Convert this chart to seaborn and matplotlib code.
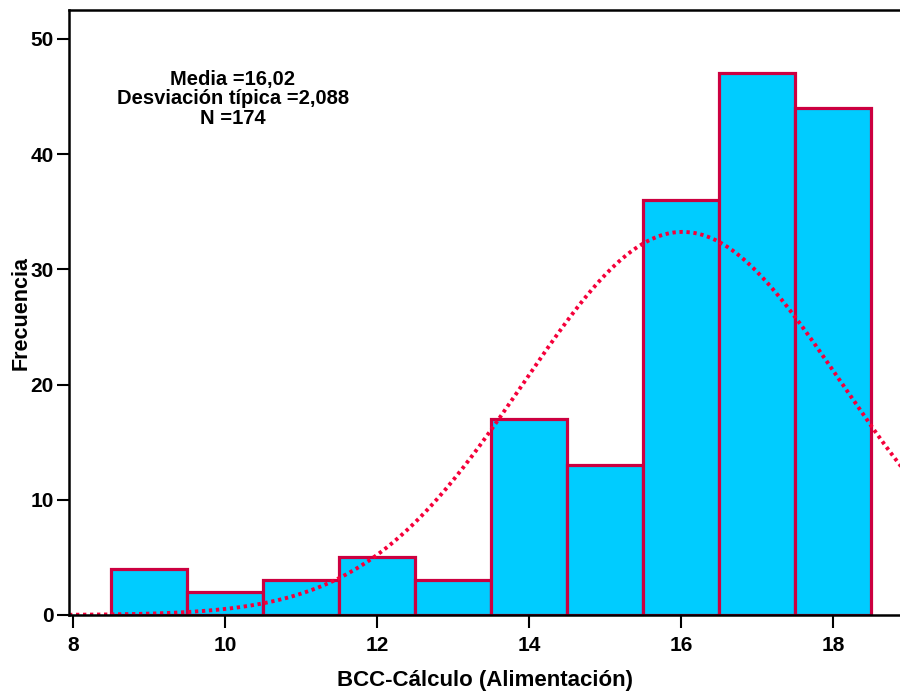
import numpy as np
import pandas as pd
import matplotlib
matplotlib.use("Agg")
import matplotlib.pyplot as plt
import seaborn as sns

bin_centers = [9, 10, 11, 12, 13, 14, 15, 16, 17, 18]
counts = [4, 2, 3, 5, 3, 17, 13, 36, 47, 44]
bin_edges = [8.5, 9.5, 10.5, 11.5, 12.5, 13.5, 14.5, 15.5, 16.5, 17.5, 18.5]
mean_val = 16.02
sd_val = 2.088
n_val = 174
x_ticks = [8, 10, 12, 14, 16, 18]
y_ticks = [0, 10, 20, 30, 40, 50]

sns.set_theme(style="white")
plt.rcParams['font.family'] = ['Liberation Sans', 'DejaVu Sans']
plt.rcParams['font.weight'] = 'bold'
plt.rcParams['text.color'] = 'black'
plt.rcParams['axes.labelcolor'] = 'black'
plt.rcParams['xtick.color'] = 'black'
plt.rcParams['ytick.color'] = 'black'

fig = plt.figure(figsize=(9, 6.91), dpi=100)
ax = fig.add_axes([0.0767, 0.11, 0.9233, 0.8755])

df = pd.DataFrame({"x": bin_centers, "w": counts})
sns.histplot(data=df, x="x", weights="w", bins=bin_edges, ax=ax,
             color="#00CCFF", edgecolor="#CC0040", linewidth=2.3, alpha=1.0)

xs = np.linspace(7.95, 19.0, 400)
ys = n_val * 1.0 * np.exp(-0.5 * ((xs - mean_val) / sd_val) ** 2) / (sd_val * np.sqrt(2 * np.pi))
sns.lineplot(x=xs, y=ys, ax=ax, color="#F5003A", linewidth=2.8,
             linestyle=(0, (0.85, 0.95)))

ax.set_xlim(7.95, 18.88)
ax.set_ylim(0, 52.5)
ax.set_xticks(x_ticks)
ax.set_yticks(y_ticks)
ax.tick_params(axis='both', which='both', direction='out', length=9, width=1.5,
               labelsize=15, colors='black', bottom=True, left=True, pad=2)
ax.tick_params(axis='x', pad=6)
for lab in ax.get_xticklabels() + ax.get_yticklabels():
    lab.set_fontweight('bold')
ax.set_xlabel("BCC-Cálculo (Alimentación)", fontsize=16, fontweight='bold', labelpad=11)
ax.set_ylabel("Frecuencia", fontsize=15.5, fontweight='bold', labelpad=-1)

for side in ['left', 'top', 'bottom']:
    ax.spines[side].set_visible(True)
    ax.spines[side].set_color('black')
    ax.spines[side].set_linewidth(1.8)
ax.spines['right'].set_visible(False)

ax.text(233, 691 - 99, "Media =16,02\nDesviación típica =2,088\nN =174",
        transform=None, ha='center', va='center', fontsize=14.5,
        fontweight='bold', linespacing=1.05, color='black')

fig.savefig("out.png", dpi=100)
